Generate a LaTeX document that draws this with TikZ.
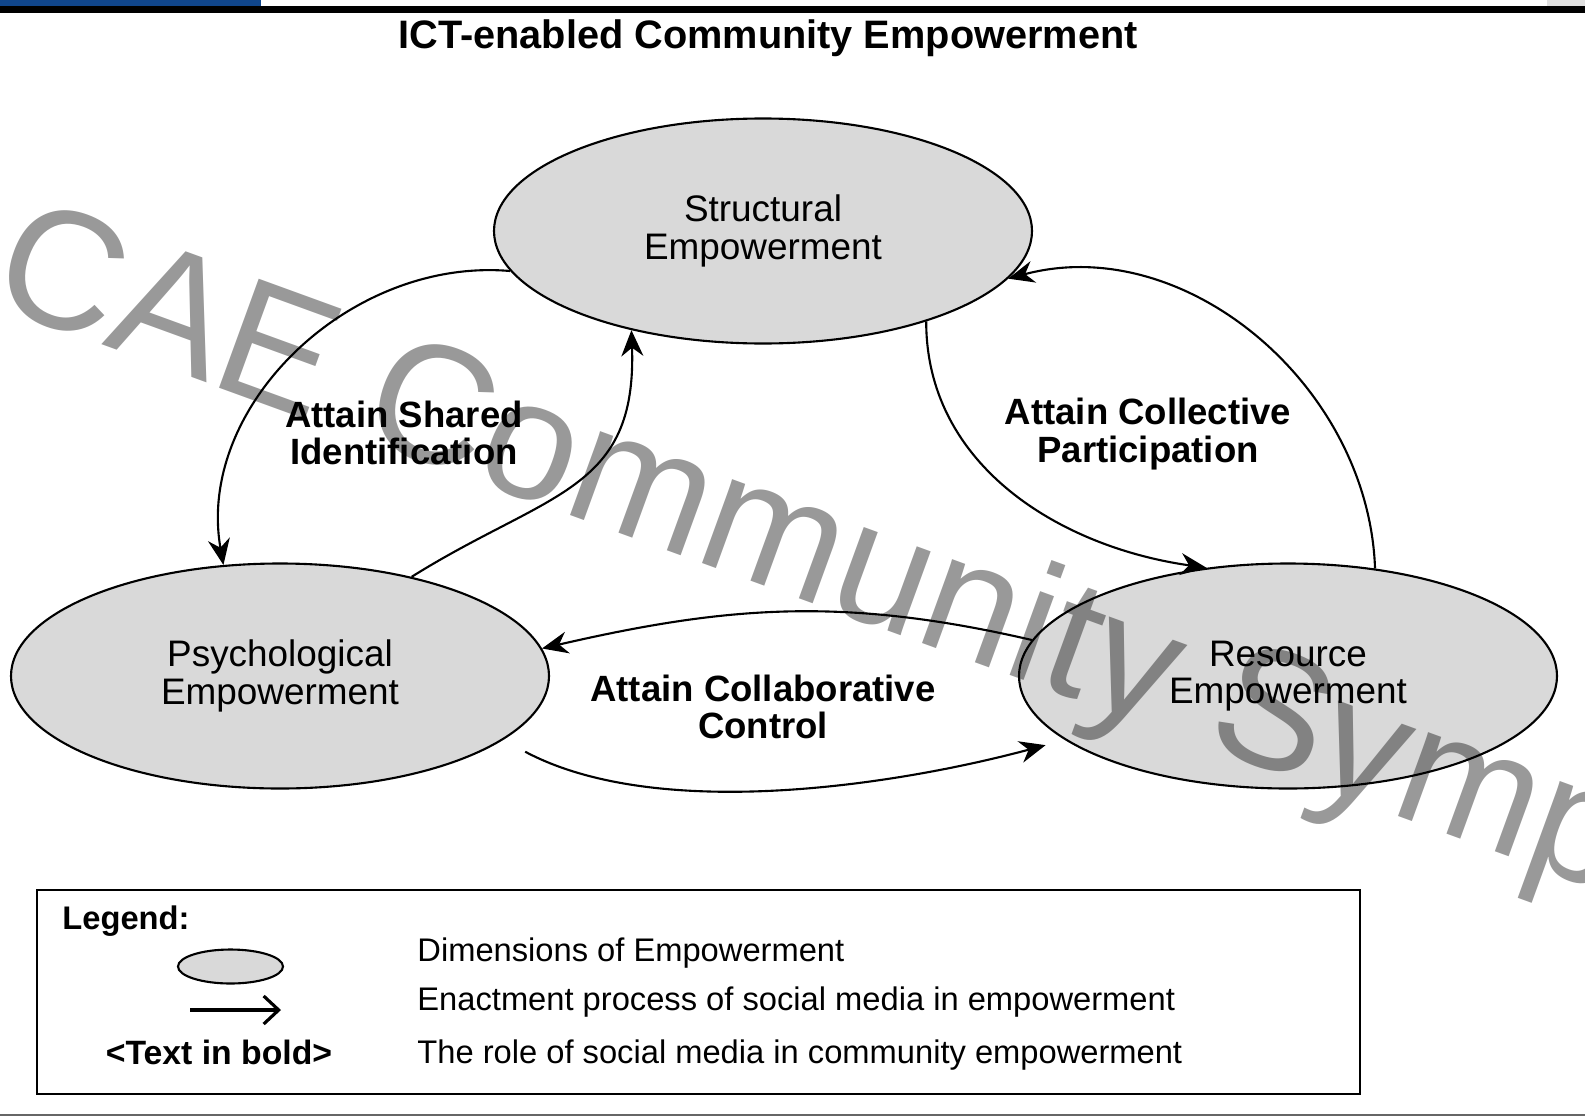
\documentclass[tikz,border=0pt]{standalone}
\usepackage{fontspec}
\setmainfont{Liberation Sans}
\usetikzlibrary{shapes.geometric,arrows.meta}
\definecolor{ellfill}{gray}{0.85}
\definecolor{topblue}{RGB}{16,70,140}

\begin{document}
\begin{tikzpicture}[
    dimension/.style={draw, ellipse, fill=ellfill, line width=0.6pt, minimum width=5.38cm, minimum height=2.25cm, align=center, font=\fontsize{10.5}{10.6}\selectfont},
    role/.style={align=center, font=\bfseries\fontsize{10.4}{10.6}\selectfont},
    enact/.style={-{Stealth[length=2.6mm,width=2.2mm]}, line width=0.6pt},
    legtext/.style={anchor=west, font=\fontsize{9.3}{11}\selectfont}
]
            \useasboundingbox (0,0) rectangle (15.85,11.16);

            % Page bars
            \fill[black] (0,11.03) rectangle (15.85,11.10);
            \fill[topblue] (0,11.10) rectangle (2.61,11.16);
            \fill[black!12] (15.47,11.10) rectangle (15.85,11.16);
            \fill[black!60] (0,0) rectangle (15.85,0.025);

            % Title
            \node[font=\bfseries\fontsize{11.3}{13}\selectfont] (title) at (7.68,10.78) {ICT-enabled Community Empowerment};

            % Dimensions of Empowerment
            \node[dimension] (struct) at (7.63,8.85) {Structural\\Empowerment};
            \node[dimension] (psych) at (2.80,4.40) {Psychological\\Empowerment};
            \node[dimension] (res) at (12.88,4.40) {Resource\\Empowerment};

            % Roles of social media
            \node[role] (shared) at (4.04,6.83) {Attain Shared\\Identification};
            \node[role] (collective) at (11.48,6.82) {Attain Collective\\Participation};
            \node[role] (collab) at (7.63,4.09) {Attain Collaborative\\Control};

            % Enactment processes
            \draw[enact] (struct.189) to[out=175,in=100] (psych.117);
            \draw[enact] (psych.37) to[out=32,in=-88,looseness=1.25] (struct.217);
            \draw[enact] (struct.331) to[out=-90,in=172] (res.127);
            \draw[enact] (res.51) to[out=92,in=15] (struct.349);
            \draw[enact] (res.172) to[out=167,in=13] (psych.6);
            \draw[enact, shorten <=0.25cm, shorten >=0.2cm] (psych.-16) to[out=-28,in=195,looseness=0.8] (res.196);

            % Legend
            \node[draw, line width=0.7pt, minimum width=13.23cm, minimum height=2.04cm] (legbox) at (6.985,1.24) {};
            \node[anchor=west, font=\bfseries\fontsize{9.3}{11}\selectfont] (legtitle) at (0.50,1.95) {Legend:};
            \node[draw, ellipse, fill=ellfill, line width=0.6pt, minimum width=1.05cm, minimum height=0.34cm, inner sep=0] (legell) at (2.305,1.495) {};
            \coordinate (legfrom) at (1.90,1.06);
            \coordinate (legto) at (2.81,1.06);
            \draw[-{Straight Barb[length=1.5mm,width=2.8mm]}, line width=0.9pt] (legfrom) -- (legto);
            \node[font=\bfseries\fontsize{9.6}{11}\selectfont] (legbold) at (2.19,0.64) {<Text in bold>};
            \node[legtext] (legdim) at (4.05,1.63) {Dimensions of Empowerment};
            \node[legtext] (legenact) at (4.05,1.14) {Enactment process of social media in empowerment};
            \node[legtext] (legrole) at (4.05,0.61) {The role of social media in community empowerment};

            % Watermark
            \begin{scope}[blend mode=multiply]
            \node[anchor=base west, rotate=-20, text=black!40, font=\fontsize{48}{50}\selectfont, inner sep=0] (mark) at (-0.14,8.13) {CAE Community Symp};
            \end{scope}
        \end{tikzpicture}
\end{document}
